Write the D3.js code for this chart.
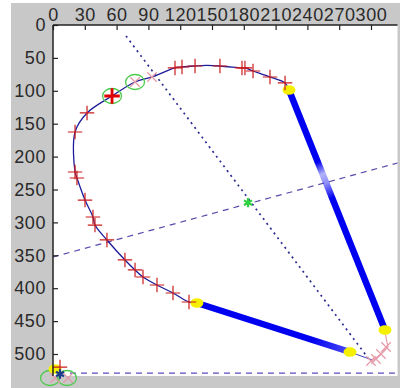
<!DOCTYPE html>
<html>
<head>
<meta charset="utf-8">
<style>
body{ margin:0; background:#fff; }
#target text{ font-family: "Liberation Sans", Arial, sans-serif; }
</style>
</head>
<body>
<div id="target"></div>
<script src="https://cdn.jsdelivr.net/npm/d3@7.8.5/dist/d3.min.js"></script>
<script>
// contour with markers (image coordinates, y down)
const xTickVals = [0, 30, 60, 90, 120, 150, 180, 210, 240, 270, 300];
const yTickVals = [0, 50, 100, 150, 200, 250, 300, 350, 400, 450, 500];

const curveX = [222.6, 218.9, 204.7, 188.7, 181.1, 178.3, 157.5, 145, 134, 121.7, 115.1, 93.4, 77.4, 55.7, 32.1, 20.8, 20.8, 22.6, 30.2, 37.7, 39.6, 50.9, 67.9, 77.4, 84.9, 98.1, 113.2, 128.3, 135.8];
const curveY = [98.8, 88.1, 79, 69.9, 65.3, 65.3, 62.3, 61.5, 62.3, 63.8, 65.3, 79, 86.6, 107.9, 133.7, 162.6, 223.4, 232.5, 266, 291.8, 304, 326.7, 357.1, 372.3, 383, 395.1, 407.3, 421, 422.5];

const markX = [218.9, 204.7, 188.7, 181.1, 178.3, 157.5, 134, 121.7, 115.1, 32.1, 20.8, 20.8, 22.6, 30.2, 37.7, 39.6, 50.9, 67.9, 77.4, 84.9, 98.1, 113.2, 128.3, 6.6];
const markY = [88.1, 79, 69.9, 65.3, 65.3, 62.3, 62.3, 63.8, 65.3, 133.7, 162.6, 223.4, 232.5, 266, 291.8, 304, 326.7, 357.1, 372.3, 383, 395.1, 407.3, 421, 519.8];

const pinkX = [77.4, 93.4, 314.2, 309.4, 304.7, 300, 1.9, 14.2];
const pinkY = [86.6, 79, 489.4, 500, 507.6, 510.6, 536.5, 536.5];

const ringX = [55.7, 77.4, -2.8, 13.2];
const ringY = [107.9, 86.6, 536.5, 536.5];

const yellowX = [222.6, 313.2, 280.2, 135.8, 1.9];
const yellowY = [98.8, 463.5, 497, 422.5, 522.8];

// thick segments: [from, to] as indexes into yellow
const thickSegs = [[0, 1], [3, 2]];

const pinkLineX = [313.2, 316, 309.4, 301];
const pinkLineY = [466.6, 489.4, 500, 510.6];
const tailX = [280.2, 301];
const tailY = [497, 509];

const dotLineX = [68.9, 297.2];
const dotLineY = [16.7, 506];
const dashLineX = [0, 325];
const dashLineY = [352.6, 209.7];
const baseLineX = [16, 325];
const baseLineY = [529, 529];

const starX = [184, 6.6];
const starY = [270, 530.4];

const W = 400, H = 388;

const svg = d3.select("#target").append("svg")
    .attr("width", W).attr("height", H);

svg.append("rect").attr("x", 11).attr("y", 3).attr("width", W - 11).attr("height", H - 3)
    .attr("fill", "#c8c8c8");

const x = d3.scaleLinear().domain([0, 300]).range([53, 371]);
const y = d3.scaleLinear().domain([0, 500]).range([25, 354]);

svg.append("rect")
    .attr("x", x(0)).attr("y", y(0))
    .attr("width", x(325) - x(0)).attr("height", y(533.4) - y(0))
    .attr("fill", "#fff");

const line = d3.line().x(d => x(d[0])).y(d => y(d[1]));

// guide lines
svg.append("path").datum(d3.zip(dotLineX, dotLineY))
    .attr("d", line).attr("fill", "none")
    .attr("stroke", "#2a2a92").attr("stroke-width", 1.7)
    .attr("stroke-dasharray", "2,4");
svg.append("path").datum(d3.zip(dashLineX, dashLineY))
    .attr("d", line).attr("fill", "none")
    .attr("stroke", "#5a48aa").attr("stroke-width", 1.2)
    .attr("stroke-dasharray", "6,5");
svg.append("path").datum(d3.zip(baseLineX, baseLineY))
    .attr("d", line).attr("fill", "none")
    .attr("stroke", "#5a48c0").attr("stroke-width", 1.4)
    .attr("stroke-dasharray", "6,5");

// thick segments with a faded patch like the reference
const defs = svg.append("defs");
const fades = [
    [[0, 1], [0.3, 1], [0.35, 0.3], [0.39, 0.45], [0.45, 1], [1, 1]],
    [[0, 1], [0.75, 1], [1, 0.7]]
];
thickSegs.forEach((s, i) => {
    const a = [x(yellowX[s[0]]), y(yellowY[s[0]])];
    const b = [x(yellowX[s[1]]), y(yellowY[s[1]])];
    const g = defs.append("linearGradient").attr("id", "g" + i)
        .attr("gradientUnits", "userSpaceOnUse")
        .attr("x1", a[0]).attr("y1", a[1]).attr("x2", b[0]).attr("y2", b[1]);
    fades[i].forEach(f => g.append("stop").attr("offset", f[0])
        .attr("stop-color", "#0000f0").attr("stop-opacity", f[1]));
    svg.append("line")
        .attr("x1", a[0]).attr("y1", a[1]).attr("x2", b[0]).attr("y2", b[1])
        .attr("stroke", `url(#g${i})`).attr("stroke-width", 6.5);
});

svg.append("path").datum(d3.zip(tailX, tailY))
    .attr("d", line).attr("fill", "none")
    .attr("stroke", "#4040c0").attr("stroke-width", 1);
svg.append("path").datum(d3.zip(pinkLineX, pinkLineY))
    .attr("d", line).attr("fill", "none")
    .attr("stroke", "#e8a0a8").attr("stroke-width", 1.2);

// main contour
svg.append("path").datum(d3.zip(curveX, curveY))
    .attr("d", d3.line().x(d => x(d[0])).y(d => y(d[1])).curve(d3.curveCatmullRom.alpha(0.5)))
    .attr("fill", "none").attr("stroke", "#1c1c9a").attr("stroke-width", 1.3);

// rings
svg.selectAll(".ring").data(d3.zip(ringX, ringY)).join("ellipse")
    .attr("cx", d => x(d[0])).attr("cy", d => y(d[1]))
    .attr("rx", 9.5).attr("ry", 7.5)
    .attr("fill", "none").attr("stroke", "#4ccc4c").attr("stroke-width", 1.3);

// yellow dots
svg.selectAll(".yel").data(d3.zip(yellowX, yellowY)).join("ellipse")
    .attr("cx", d => x(d[0])).attr("cy", d => y(d[1]))
    .attr("rx", 6.5).attr("ry", 4.8).attr("fill", "#f4f000");

const plus = d3.symbol(d3.symbolPlus, 70);
svg.selectAll(".mk").data(d3.zip(markX, markY)).join("path")
    .attr("transform", d => `translate(${x(d[0])},${y(d[1])})`)
    .attr("d", plus).attr("fill", "none")
    .attr("stroke", "#cc1c1c").attr("stroke-width", 1.2);
// the big one inside the first ring
svg.append("path")
    .attr("transform", `translate(${x(ringX[0])},${y(ringY[0])})`)
    .attr("d", d3.symbol(d3.symbolPlus, 80)).attr("fill", "none")
    .attr("stroke", "#e00000").attr("stroke-width", 2.8);

svg.selectAll(".pk").data(d3.zip(pinkX, pinkY)).join("path")
    .attr("transform", d => `translate(${x(d[0])},${y(d[1])})`)
    .attr("d", d3.symbol(d3.symbolTimes, 60)).attr("fill", "none")
    .attr("stroke", "#e49aa8").attr("stroke-width", 1.2);

svg.selectAll(".st").data(d3.zip(starX, starY)).join("path")
    .attr("transform", d => `translate(${x(d[0])},${y(d[1])})`)
    .attr("d", d3.symbol(d3.symbolAsterisk, 60)).attr("fill", "none")
    .attr("stroke", (d, i) => i ? "#1c3c8a" : "#30d040").attr("stroke-width", 2.2);

// axes, ticks pointing inward
const xAxis = d3.axisTop(x).tickValues(xTickVals).tickFormat(d3.format("d"))
    .tickSizeInner(-5).tickSizeOuter(0).tickPadding(4);
const yAxis = d3.axisLeft(y).tickValues(yTickVals).tickFormat(d3.format("d"))
    .tickSizeInner(-5).tickSizeOuter(0).tickPadding(7);

const gx = svg.append("g").attr("transform", `translate(0,${y(0)})`).call(xAxis);
gx.select(".domain").attr("d", `M${x(0)},0H${x(325)}`);
const gy = svg.append("g").attr("transform", `translate(${x(0)},0)`).call(yAxis);
gy.select(".domain").attr("d", `M0,${y(0)}V${y(533.4)}`);

[gx, gy].forEach(g => {
    g.attr("font-size", 18).attr("font-family", "Liberation Sans, Arial, sans-serif");
    g.selectAll(".domain").attr("stroke", "#222").attr("stroke-width", 1.5);
    g.selectAll(".tick line").attr("stroke", "#222").attr("stroke-width", 1.2);
    g.selectAll(".tick text").attr("fill", "#2a2a2a")
        .style("letter-spacing", "0.6px");
});
</script>
</body>
</html>
